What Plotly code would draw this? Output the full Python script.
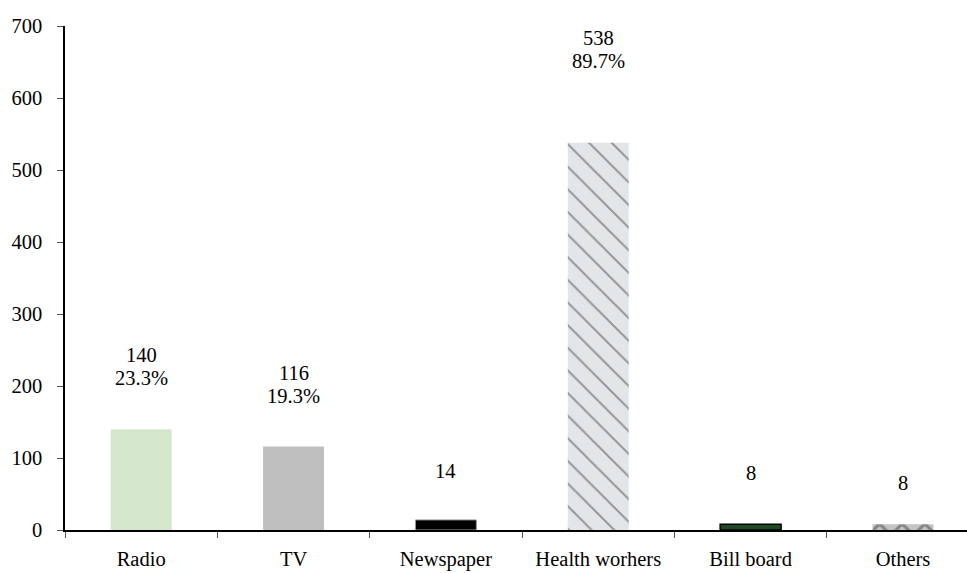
import plotly.graph_objects as go

# Sources of information (respondent counts)
categories = ["Radio", "TV", "Newspaper", "Health worhers", "Bill board", "Others"]
counts = [140, 116, 14, 538, 8, 8]
percent_labels = ["23.3%", "19.3%", "", "89.7%", "", ""]
y_ticks = [0, 100, 200, 300, 400, 500, 600, 700]

# Styling per bar
fill_colors = ["#d4e7cc", "#bfbfbf", "#000000", "#e3e6e8", "#1e4a28", "#c4c4c4"]
line_colors = ["#d4e7cc", "#bfbfbf", "#9a9a9a", "#e3e6e8", "#000000", "#c4c4c4"]
line_widths = [0, 0, 1, 0, 1.5, 0]
pattern_shapes = ["", "", "", "\\", "", "x"]
pattern_fg = ["#ffffff", "#ffffff", "#ffffff", "#cfd3d6", "#ffffff", "#707070"]
pattern_solidity = [0.2, 0.2, 0.2, 0.12, 0.2, 0.35]
# distance (px) from bar top to the centre of the lowest label line
label_lift = [51, 50, 49, 82, 51, 41]
line_gap = 23

FONT = "Times New Roman"
FS = 20.5

fig = go.Figure(
    go.Bar(
        x=categories,
        y=counts,
        width=0.4,
        marker=dict(
            color=fill_colors,
            line=dict(color=line_colors, width=line_widths),
            pattern=dict(shape=pattern_shapes, fgcolor=pattern_fg,
                         size=16, solidity=pattern_solidity),
        ),
        hoverinfo="x+y",
    )
)

annotations = []
for cat, val, pct, lift in zip(categories, counts, percent_labels, label_lift):
    lines = [str(val)] + ([pct] if pct else [])
    for i, txt in enumerate(reversed(lines)):
        annotations.append(dict(
            x=cat, y=val, xref="x", yref="y",
            text=txt, showarrow=False,
            yanchor="middle", xanchor="center",
            yshift=lift + i * line_gap,
            font=dict(family=FONT, size=FS, color="#000000"),
        ))

fig.update_layout(
    width=967, height=573,
    margin=dict(l=65, r=0, t=26, b=43),
    paper_bgcolor="white", plot_bgcolor="white",
    showlegend=False,
    bargap=0.6,
    annotations=annotations,
    font=dict(family=FONT, size=FS, color="#000000"),
    xaxis=dict(
        range=[-0.5, 5.42],
        automargin=False,
        showline=True, linecolor="#000000", linewidth=1.5,
        ticks="outside", tickson="boundaries", ticklen=6,
        tickcolor="#555555", tickwidth=1,
        ticklabelstandoff=10,
        showgrid=False, zeroline=False,
        tickfont=dict(family=FONT, size=FS, color="#000000"),
    ),
    yaxis=dict(
        range=[0, 700],
        tickvals=y_ticks,
        automargin=False,
        showline=True, linecolor="#000000", linewidth=1.5,
        ticks="outside", ticklen=6, tickcolor="#555555", tickwidth=1,
        ticklabelstandoff=11,
        showgrid=False, zeroline=False,
        tickfont=dict(family=FONT, size=FS, color="#000000"),
    ),
)

fig.write_html("out.html")
